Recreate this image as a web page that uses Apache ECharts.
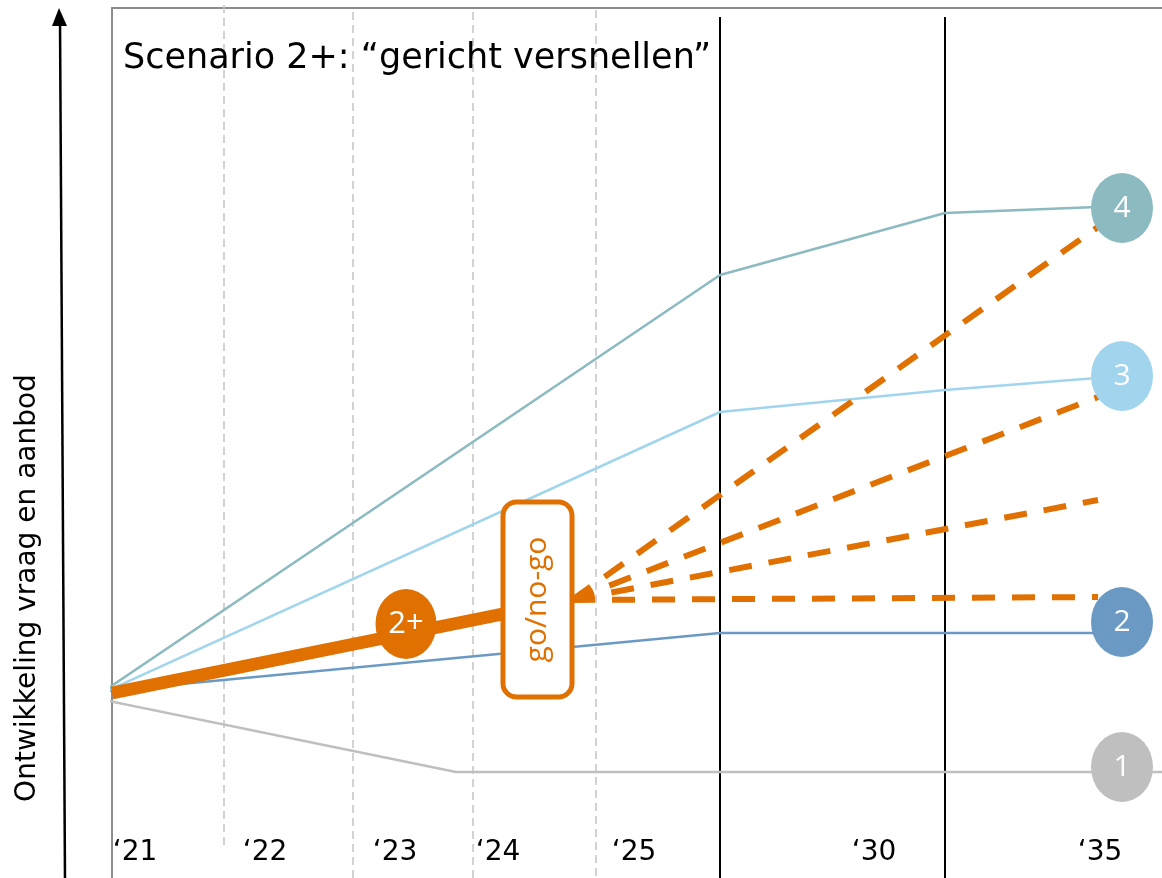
<!DOCTYPE html>
<html><head><meta charset="utf-8">
<script src="https://cdn.jsdelivr.net/npm/echarts@6/dist/echarts.min.js"></script>
<style>html,body{margin:0;padding:0;background:#fff}#c{width:1162px;height:878px}</style>
</head><body><div id="c"></div>
<script>
// Schematic coordinate system: x = timeline position, y = development of demand/supply
const tickLabels = ['‘21','‘22','‘23','‘24','‘25','‘30','‘35'];
const tickPos    = [2.3, 15.3, 28.3, 38.6, 52.2, 76.2, 98.8];
const tickRow    = 2.5;

const dashedDividers   = [11.2, 24.1, 36.1, 48.4];
const dashedDividerTop = [87.3, 86.6, 86.6, 86.8];
const dashedDividerBot = [3.3, 0, 0, 0];
const solidDividers    = [60.8, 83.3];
const solidDividerTop  = [86.1, 86.1];

const scenarioNames = ['1', '2', '3', '4'];
const scenario1 = [[-0.8, 17.8], [34.4, 10.6], [105, 10.6]];
const scenario2 = [[-0.5, 18.7], [60.8, 24.5], [101, 24.5]];
const scenario3 = [[-0.5, 18.7], [60.8, 46.6], [83.3, 48.8], [101, 50.2]];
const scenario4 = [[-0.5, 18.9], [60.8, 60.3], [83.3, 66.5], [101, 67.2]];
const scenarioEndX = [101, 101, 101, 101];
const scenarioEndY = [11.1, 25.6, 50.2, 67.0];

const path2plus   = [[0, 18.5], [46.0, 27.8]];
const marker2plus = [29.4, 25.4];
const goNoGoPos   = [42.55, 27.85];
const fanStart    = [46.0, 27.8];
const fanEnds     = [[99.3, 65.6], [98.6, 48.1], [98.6, 37.8], [98.6, 28.1]];

const ORANGE = '#e07000';
const scenarioColors = ['#bfbfbf', '#6a9ac4', '#a1d5ee', '#8bbac0'];
const scenarioData = [scenario1, scenario2, scenario3, scenario4];

const chart = echarts.init(document.getElementById('c'), null, {renderer: 'canvas'});
const series = [];

dashedDividers.forEach((x, i) => series.push({
  type: 'line', data: [[x, dashedDividerTop[i]], [x, dashedDividerBot[i]]],
  symbol: 'none', silent: true, clip: false, z: 1,
  lineStyle: {color: '#c4c4c4', width: 1.5, type: [8, 5]}
}));
solidDividers.forEach((x, i) => series.push({
  type: 'line', data: [[x, solidDividerTop[i]], [x, 0]],
  symbol: 'none', silent: true, clip: false, z: 1,
  lineStyle: {color: '#000', width: 2}
}));

scenarioData.forEach((d, i) => series.push({
  type: 'line', data: d, symbol: 'none', clip: false, z: 2,
  lineStyle: {color: scenarioColors[i], width: 2.5}
}));

fanEnds.forEach(e => series.push({
  type: 'line', data: [fanStart, e], symbol: 'none', clip: false, z: 3,
  lineStyle: {color: ORANGE, width: 6, type: [23, 17], cap: 'butt'}
}));

series.push({
  type: 'line', data: path2plus, symbol: 'none', clip: false, z: 4,
  lineStyle: {color: ORANGE, width: 13, cap: 'butt'}
});

series.push({
  type: 'scatter', z: 6, symbol: 'circle', symbolSize: [62, 70],
  itemStyle: {opacity: 1},
  data: scenarioNames.map((n, i) => ({
    name: n, value: [scenarioEndX[i], scenarioEndY[i]],
    itemStyle: {color: scenarioColors[i], opacity: 1}
  })),
  label: {show: true, position: 'inside', formatter: '{b}', color: '#fff',
          fontSize: 30, fontFamily: 'Open Sans'}
});

series.push({
  type: 'scatter', z: 6, symbol: 'circle', symbolSize: [61, 70],
  itemStyle: {opacity: 1},
  data: [{name: '2+', value: marker2plus, itemStyle: {color: ORANGE, opacity: 1}}],
  label: {show: true, position: 'inside', formatter: '{b}', color: '#fff',
          fontSize: 31, fontFamily: 'Open Sans'}
});

series.push({
  type: 'scatter', z: 7, symbolSize: 0, itemStyle: {opacity: 1},
  data: [{name: 'go/no-go', value: goNoGoPos}],
  label: {show: true, position: 'inside', rotate: 90, formatter: '{b}',
          color: ORANGE, fontSize: 30, fontFamily: 'Open Sans',
          backgroundColor: '#fff', borderColor: ORANGE, borderWidth: 5, borderRadius: 11,
          width: 190, height: 64, lineHeight: 64, padding: 0,
          align: 'center', verticalAlign: 'middle'}
});

series.push({
  type: 'scatter', z: 5, symbolSize: 0, itemStyle: {opacity: 1},
  data: tickLabels.map((t, i) => ({name: t, value: [tickPos[i], tickRow]})),
  label: {show: true, position: 'inside', formatter: '{b}', color: '#000',
          fontSize: 28, fontFamily: 'DejaVu Sans'}
});

chart.setOption({
  animation: false,
  backgroundColor: '#fff',
  title: {
    text: 'Scenario 2+: “gericht versnellen”', left: 123, top: 41, padding: 0,
    textStyle: {fontSize: 35, fontWeight: 'normal', fontFamily: 'DejaVu Sans', color: '#000', lineHeight: 35}
  },
  grid: {left: 112, right: 0, top: 8, bottom: 0, containLabel: false},
  xAxis: {type: 'value', min: 0, max: 105, position: 'top',
    axisLine: {show: true, onZero: false, lineStyle: {color: '#8c8c8c', width: 2}},
    axisTick: {show: false}, axisLabel: {show: false}, splitLine: {show: false}},
  yAxis: {type: 'value', min: 0, max: 87,
    axisLine: {show: true, onZero: false, lineStyle: {color: '#8c8c8c', width: 2}},
    axisTick: {show: false}, axisLabel: {show: false}, splitLine: {show: false}},
  graphic: [
    {type: 'line', shape: {x1: 65, y1: 878, x2: 60, y2: 20}, style: {stroke: '#000', lineWidth: 2.5}},
    {type: 'polygon', shape: {points: [[59, 8], [52, 26], [67, 26]]}, style: {fill: '#000'}},
    {type: 'text', x: 28, y: 588, rotation: Math.PI / 2,
     style: {text: 'Ontwikkeling vraag en aanbod', font: '28px "DejaVu Sans"', fill: '#000',
             align: 'center', verticalAlign: 'middle', textAlign: 'center', textVerticalAlign: 'middle'}}
  ],
  series: series
});
</script></body></html>
